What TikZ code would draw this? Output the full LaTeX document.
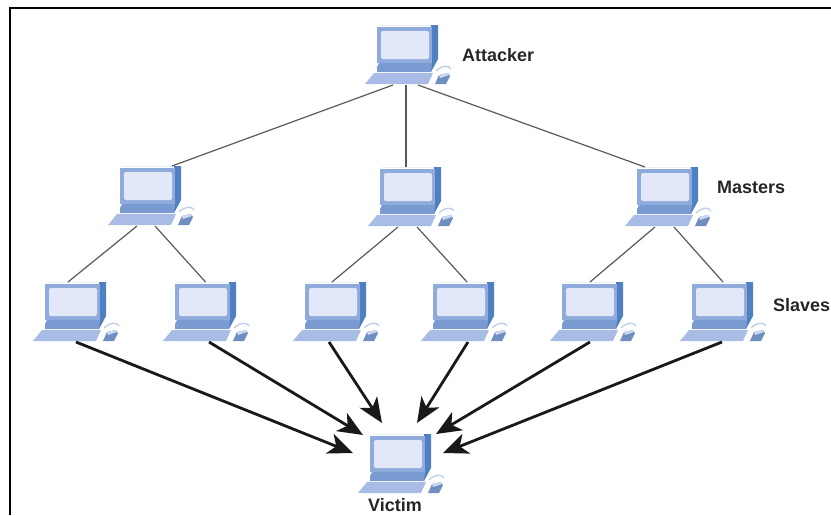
\documentclass[tikz,border=0pt]{standalone}
\usepackage{fontspec}
\setmainfont{Liberation Sans}
\usepackage{tikz}
\usetikzlibrary{arrows.meta}

\definecolor{pcframe}{HTML}{8FABDC}
\definecolor{pcside}{HTML}{4F80C2}
\definecolor{pcscreen}{HTML}{E2E8F8}
\definecolor{pcfoot}{HTML}{7A9AD2}
\definecolor{pckeys}{HTML}{A8BCE6}
\definecolor{pcmouse}{HTML}{6F8FC0}

\tikzset{
    host/.style={anchor=north west, minimum width=61pt, minimum height=60pt, inner sep=0pt, outer sep=0pt},
    link/.style={draw=black!65, line width=1.2pt},
    attack/.style={draw=black!90, line width=2.8pt, -{Stealth[length=25pt,width=21pt,inset=7pt]}},
    label/.style={anchor=west, font=\bfseries\fontsize{18}{20}\selectfont, text=black!85, inner sep=0pt},
    pics/pc/.style={code={
        \fill[pcside] (2,0) -- (61,0) -- (61,34) -- (54,47) -- (54,0) -- cycle;
        \fill[pcframe] (0,2) -- (55,2) -- (55,38) -- (0,38) -- cycle;
        \fill[pcscreen, rounded corners=2pt] (4,6) rectangle (52,34);
        \fill[pcfoot] (2,38) -- (55,38) -- (54,47) -- (0,47) -- (0,42) -- cycle;
        \fill[pckeys] (-3,48) -- (56,48) -- (51,59) -- (-12,59) -- cycle;
        \draw[pcframe!60, line width=1.3pt] (59,46) .. controls (65,40) and (72,40) .. (74,44);
        \fill[pcmouse] (58,59) -- (62,50) -- (71,48) -- (73,51) -- (69,59) -- cycle;
        \fill[pckeys!60] (62,50) -- (71,48) -- (72,50) -- (63,53) -- cycle;
    }}
}

\begin{document}
\begin{tikzpicture}[x=1pt, y=-1pt]
    \useasboundingbox (0,0) rectangle (831,515);

    % frame
    \coordinate (framebl) at (10,515);
    \coordinate (frametl) at (10,8);
    \coordinate (frametr) at (831,8);
    \draw[line width=2.4pt, miter limit=2] (framebl) -- (frametl) -- (frametr);

    % computers
    \foreach \hname/\hx/\hy in {attacker/377/25, mone/120/166, mtwo/380/167, mthree/637/167,
        sone/45/282, stwo/175/282, sthree/305/282, sfour/433/282, sfive/562/282, ssix/692/282,
        victim/370/434} {
        \pic at (\hx,\hy) {pc};
        \node[host] (\hname) at (\hx,\hy) {};
    }

    % attacker to masters
    \draw[link] ([xshift=-14.5pt]attacker.south) -- ([xshift=21.5pt]mone.north);
    \draw[link] ([xshift=-1.5pt]attacker.south) -- ([xshift=-4.5pt]mtwo.north);
    \draw[link] ([xshift=10.5pt]attacker.south) -- ([xshift=-22.5pt]mthree.north);

    % masters to slaves
    \draw[link] ([xshift=-13.5pt]mone.south) -- ([xshift=-7.5pt]sone.north);
    \draw[link] ([xshift=4.5pt]mone.south) -- (stwo.north);
    \draw[link] ([xshift=-12.5pt]mtwo.south) -- ([xshift=-3.5pt]sthree.north);
    \draw[link] ([xshift=6.5pt]mtwo.south) -- ([xshift=3.5pt]sfour.north);
    \draw[link] ([xshift=-12.5pt]mthree.south) -- ([xshift=-2.5pt]sfive.north);
    \draw[link] ([xshift=6.5pt]mthree.south) -- ([xshift=0.5pt]ssix.north);

    % slaves to victim
    \draw[attack] ([xshift=0.5pt]sone.south) -- ([shift={(-17,-11)}]victim.west);
    \draw[attack] ([xshift=3.5pt]stwo.south) -- ([shift={(-7,-29)}]victim.west);
    \draw[attack] ([xshift=-6.5pt]sthree.south) -- ([shift={(-18.5,-11)}]victim.north);
    \draw[attack] ([xshift=4.5pt]sfour.south) -- ([shift={(16.5,-11)}]victim.north);
    \draw[attack] ([xshift=-2.5pt]sfive.south) -- ([shift={(5,-30)}]victim.east);
    \draw[attack] ([xshift=-0.5pt]ssix.south) -- ([shift={(12,-11)}]victim.east);

    % labels
    \node[label] (attackerlabel) at (462,55) {Attacker};
    \node[label] (masterslabel) at (717,187) {Masters};
    \node[label] (slaveslabel) at (773,305) {Slaves};
    \node[label] (victimlabel) at (368,505) {Victim};
\end{tikzpicture}
\end{document}
